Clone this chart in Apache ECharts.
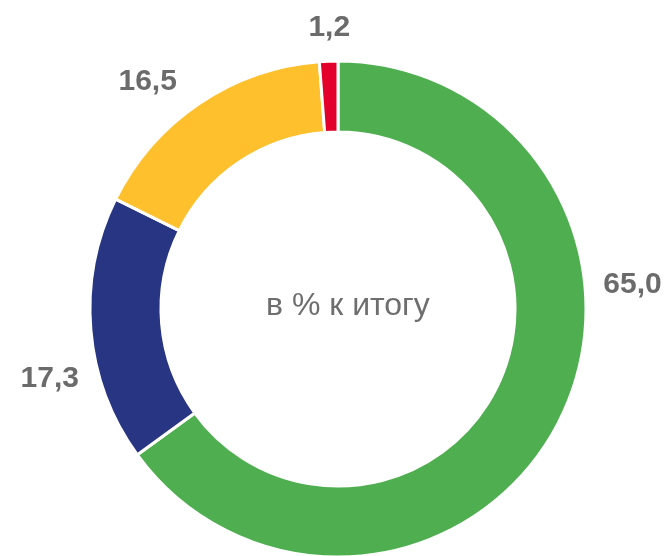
<!DOCTYPE html>
<html>
<head>
<meta charset="utf-8">
<script src="https://cdn.jsdelivr.net/npm/echarts@6/dist/echarts.min.js"></script>
<style>
  html, body { margin: 0; padding: 0; background: #fff; }
  #chart { width: 669px; height: 556px; }
</style>
</head>
<body>
<div id="chart"></div>
<script>
// shares, % of total (clockwise from 12 o'clock)
var values = [65.0, 17.3, 16.5, 1.2];
var colors = ['#4faf50', '#283583', '#fec02d', '#e3002b'];
var labelTexts = ['65,0', '17,3', '16,5', '1,2'];
// nudge labels to where the original placed them
var labelOffsets = [[31, -144], [3, 47], [-14, -9], [22, -18]];
var centerText = 'в % к итогу';

var myChart = echarts.init(document.getElementById('chart'));

var data = values.map(function (v, i) {
    return {
        value: v,
        name: labelTexts[i],
        itemStyle: { color: colors[i] },
        label: { offset: labelOffsets[i] }
    };
});

myChart.setOption({
    backgroundColor: '#fff',
    animation: false,
    title: {
        text: centerText,
        left: 261,
        top: 285,
        textStyle: {
            fontFamily: 'Liberation Sans, Arial',
            fontSize: 32,
            fontWeight: 'normal',
            color: '#6e6e6e'
        }
    },
    series: [{
        type: 'pie',
        center: [338, 309],
        radius: [177, 248],
        startAngle: 90,
        clockwise: true,
        avoidLabelOverlap: false,
        itemStyle: { borderColor: '#fff', borderWidth: 3 },
        label: {
            show: true,
            position: 'outside',
            formatter: '{b}',
            fontFamily: 'Liberation Sans, Arial',
            fontSize: 30,
            fontWeight: 'bold',
            color: '#6b6b6b',
            distanceToLabelLine: 0
        },
        labelLine: { show: false, length: 15, length2: 0 },
        emphasis: { disabled: true },
        data: data
    }]
});
</script>
</body>
</html>
